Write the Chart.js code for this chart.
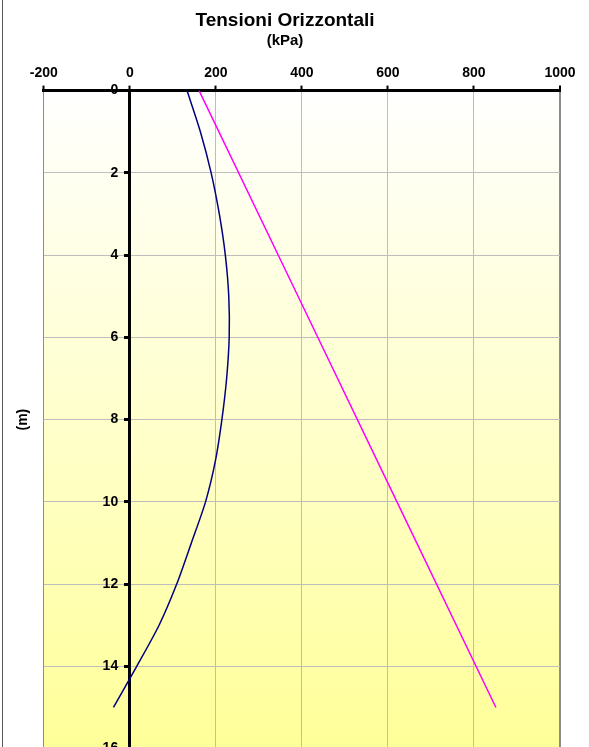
<!DOCTYPE html>
<html>
<head>
<meta charset="utf-8">
<script src="https://cdn.jsdelivr.net/npm/chart.js@4/dist/chart.umd.min.js"></script>
<style>
html,body{margin:0;padding:0;background:#fff;overflow:hidden;}
#wrap{position:relative;width:589px;height:747px;overflow:hidden;}
#edge{position:absolute;left:2px;top:0;width:1px;height:747px;background:#5a5a5a;}
canvas{position:absolute;left:0;top:0;}
</style>
</head>
<body>
<div id="wrap">
<canvas id="tensChart" width="589" height="760"></canvas>
<div id="edge"></div>
</div>

<script>

// ================= DATA =================

const depthBlue=[0,1,2,3,4,5,6,7,8,9,10,11,12,13,14,15];
const stressBlue=[133,164,189,208,222,230,231,225,214,199,176,143,109,68,16,-38];

const depthPink=[0,5,10,15];
const stressPink=[161,391,621,851];

const xTicks=[-200,0,200,400,600,800,1000];
const yTicks=[0,2,4,6,8,10,12,14,16];

function toPoints(xs,ys){
return xs.map((x,i)=>({x:x,y:ys[i]}));
}

// ================= BACKGROUND =================

const plotBackground={
id:"plotBackground",
beforeDraw(chart){
const a=chart.chartArea;
const ctx=chart.ctx;
const g=ctx.createLinearGradient(0,a.top,0,a.bottom);
g.addColorStop(0,"#ffffff");
g.addColorStop(1,"#ffff99");
ctx.save();
ctx.fillStyle=g;
ctx.fillRect(a.left,a.top,a.right-a.left,a.bottom-a.top);
ctx.restore();
}
};

// ================= CHART =================

const gridGrey="#bdbdbd";
const labelFont={family:"Liberation Sans, Arial",size:14,weight:"bold"};

new Chart(document.getElementById("tensChart"),{

type:"scatter",

data:{
datasets:[
{
data:toPoints(stressBlue,depthBlue),
showLine:true,
borderColor:"#000080",
borderWidth:1.5,
pointRadius:0,
tension:0.25
},
{
data:toPoints(stressPink,depthPink),
showLine:true,
borderColor:"#ff00ff",
borderWidth:1.5,
pointRadius:0,
tension:0
}
]
},

options:{
responsive:false,
animation:false,
layout:{padding:{left:10,right:29,top:0,bottom:1}},
plugins:{
legend:{display:false},
tooltip:{enabled:false},
title:{
display:true,
text:"Tensioni Orizzontali",
color:"#000",
font:{family:"Liberation Sans, Arial",size:19,weight:"bold"},
padding:{top:9,bottom:0}
},
subtitle:{
display:true,
text:"(kPa)",
color:"#000",
font:{family:"Liberation Sans, Arial",size:15,weight:"bold"},
padding:{top:0,bottom:11}
}
},
scales:{
x:{
type:"linear",
position:"top",
min:xTicks[0],
max:xTicks[xTicks.length-1],
afterBuildTicks(s){s.ticks=xTicks.map(v=>({value:v}));},
ticks:{
color:"#000",
padding:4,
font:labelFont,
callback:v=>String(v)
},
grid:{
color:c=>{
const v=c.tick.value;
if(v===0) return "rgba(0,0,0,0)";
if(v===-200||v===1000) return "#8c8c8c";
return gridGrey;
},
lineWidth:c=>(c.tick.value===1000?2:1),
tickColor:"#000",
tickLength:5,
tickWidth:2
},
border:{color:"#000",width:3}
},
y:{
type:"linear",
position:{x:0},
reverse:true,
min:yTicks[0],
max:yTicks[yTicks.length-1],
afterBuildTicks(s){s.ticks=yTicks.map(v=>({value:v}));},
ticks:{
color:"#000",
font:labelFont,
callback:v=>String(v)+"   "
},
grid:{
color:c=>(c.tick.value===0?"rgba(0,0,0,0)":gridGrey),
tickColor:"#000",
tickLength:4,
tickWidth:3
},
border:{color:"#000",width:3}
},
yTitle:{
type:"linear",
position:"left",
ticks:{display:false},
grid:{display:false},
border:{display:false},
title:{
display:true,
text:"(m)",
color:"#000",
font:labelFont,
padding:{top:5,bottom:4}
}
}
}
},

plugins:[plotBackground]

});

</script>
</body>
</html>
